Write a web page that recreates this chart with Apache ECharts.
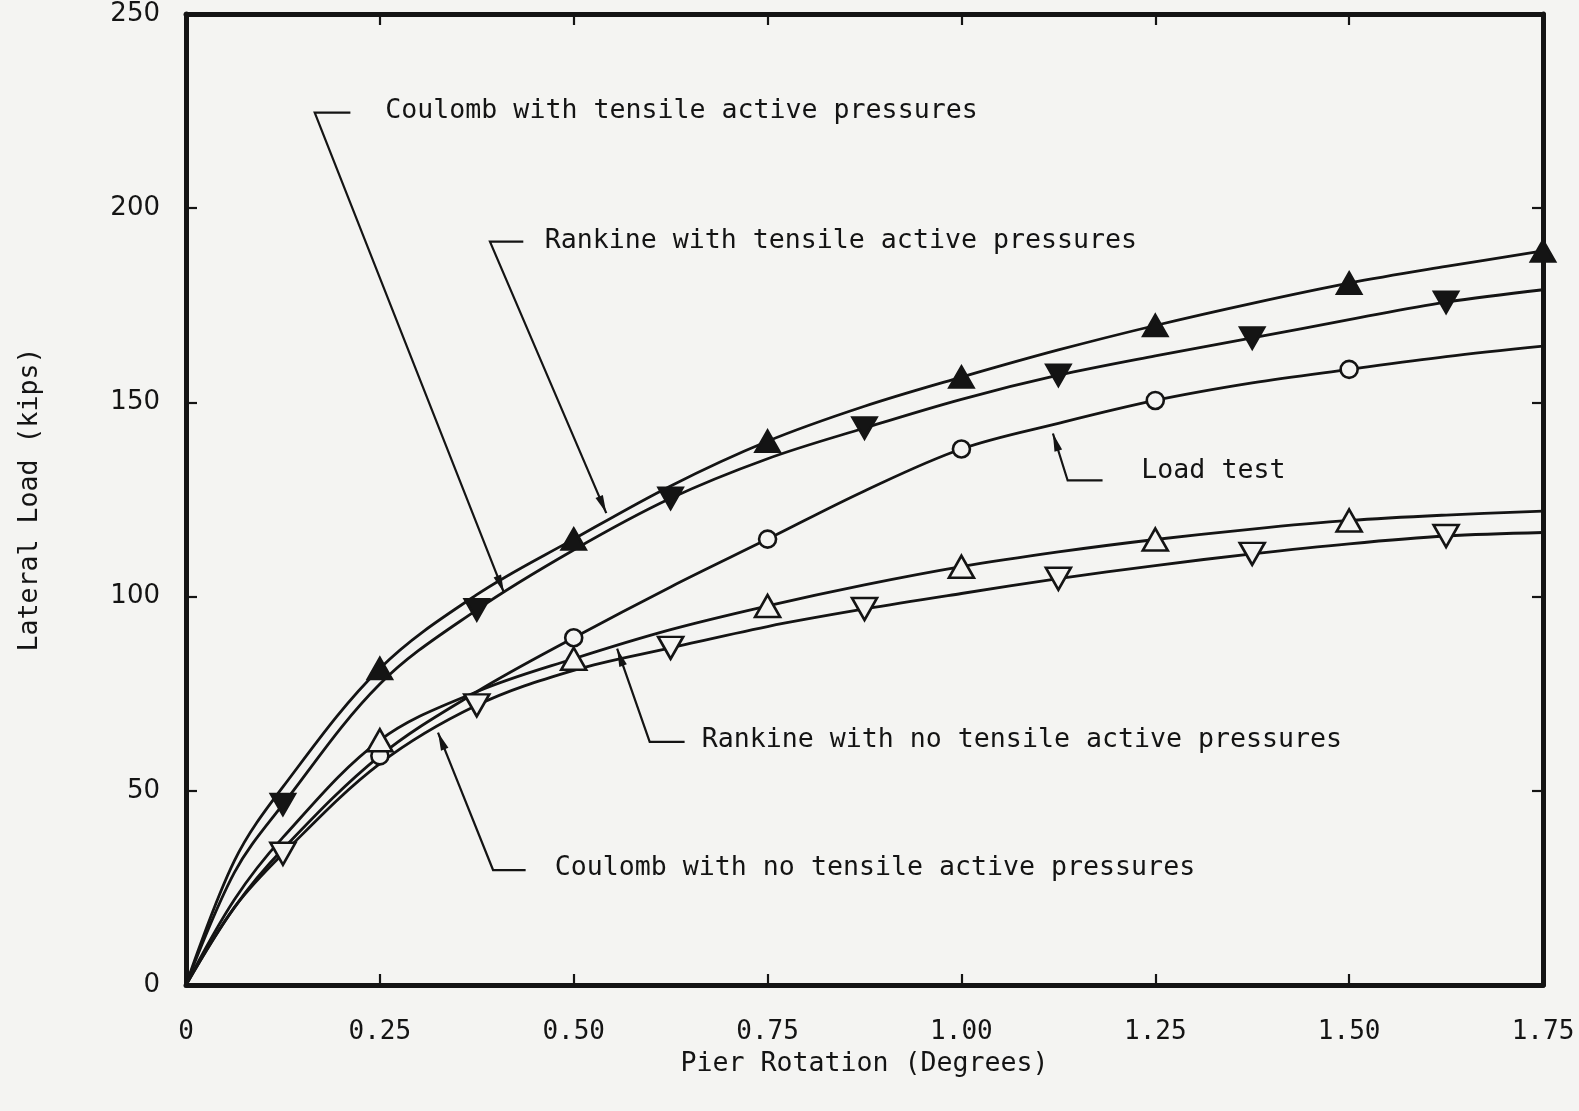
<!DOCTYPE html>
<html>
<head>
<meta charset="utf-8">
<script src="https://cdn.jsdelivr.net/npm/echarts@6/dist/echarts.min.js"></script>
<style>
html,body{margin:0;padding:0;background:#f4f4f2;}
#chart{width:1579px;height:1111px;}
</style>
</head>
<body>
<div id="chart"></div>
<script>
// ---- data ----
const rotation = [0, 0.0625, 0.125, 0.25, 0.375, 0.5, 0.625, 0.75, 0.875, 1.0, 1.125, 1.25, 1.375, 1.5, 1.625, 1.75];
const coulombTensile   = [0, 32, 51, 81.5, 100.5, 114.8, 128.5, 140, 149, 156.5, 163.5, 169.8, 175.5, 180.7, 185, 189];
const rankineTensile   = [0, 29, 46.5, 77.5, 96.6, 112, 125.3, 135.5, 143.4, 150.8, 157, 162, 166.6, 171.3, 175.8, 179];
const loadTest         = [0, 20, 35, 59, 75.5, 89.4, 102.5, 114.8, 127.2, 138, 144.6, 150.5, 155, 158.5, 161.8, 164.5];
const rankineNoTensile = [0, 22, 38, 63, 75.5, 84, 91.5, 97.6, 103, 107.7, 111.5, 114.7, 117.4, 119.6, 121, 122];
const coulombNoTensile = [0, 20, 33.8, 57, 72, 81, 86.8, 92.3, 96.8, 100.8, 104.6, 108, 111, 113.6, 115.6, 116.5];

const quarterMarks = [0.25, 0.5, 0.75, 1.0, 1.25, 1.5];
const quarterMarksEnd = [0.25, 0.5, 0.75, 1.0, 1.25, 1.5, 1.75];
const eighthMarks = [0.125, 0.375, 0.625, 0.875, 1.125, 1.375, 1.625];

const xTicks = [0, 0.25, 0.5, 0.75, 1.0, 1.25, 1.5, 1.75];
const xTickLabels = ['0', '0.25', '0.50', '0.75', '1.00', '1.25', '1.50', '1.75'];
const yTickLabels = ['0', '50', '100', '150', '200', '250'];

// annotations: label text, label anchor [x,y], leader polyline in data coords (last point = arrow tip)
const annotations = [
  {text: 'Coulomb with tensile active pressures', at: [0.257, 225.1], leader: [[0.212, 224.6], [0.166, 224.6], [0.41, 101]]},
  {text: 'Rankine with tensile active pressures', at: [0.4625, 191.6], leader: [[0.435, 191.4], [0.392, 191.4], [0.542, 121.5]]},
  {text: 'Load test', at: [1.232, 132.2], leader: [[1.182, 129.9], [1.137, 129.9], [1.118, 142.0]]},
  {text: 'Rankine with no tensile active pressures', at: [0.665, 63.0], leader: [[0.643, 62.6], [0.598, 62.6], [0.556, 86.6]]},
  {text: 'Coulomb with no tensile active pressures', at: [0.4755, 30.1], leader: [[0.438, 29.6], [0.396, 29.6], [0.325, 65]]}
];

// ---- styles ----
const INK = '#141414';
const BG = '#f4f4f2';
const MONO = "'DejaVu Sans Mono', 'Liberation Mono', monospace";

function buildData(values, marks, symbol, rotate, size) {
  return rotation.map((x, i) => {
    const marked = marks.indexOf(x) >= 0;
    return {
      value: [x, values[i]],
      symbol: marked ? symbol : 'none',
      symbolRotate: rotate,
      symbolSize: size
    };
  });
}

function curve(name, values, marks, symbol, rotate, size, filled) {
  return {
    name: name,
    type: 'line',
    smooth: 0.35,
    showAllSymbol: true,
    clip: true,
    data: buildData(values, marks, symbol, rotate, size),
    lineStyle: {color: INK, width: 2.8},
    itemStyle: {color: filled ? INK : BG, borderColor: INK, borderWidth: 2.6},
    z: 3
  };
}

const axisLineStyle = {show: true, onZero: false, lineStyle: {color: INK, width: 5}};
const tickStyle = {show: true, inside: true, length: 11, lineStyle: {color: INK, width: 2.2}};

const chart = echarts.init(document.getElementById('chart'), null, {renderer: 'canvas'});
const option = {
  backgroundColor: BG,
  animation: false,
  grid: {left: 186, right: 36, top: 14, bottom: 126, containLabel: false},
  xAxis: [{
    type: 'value', min: 0, max: 1.75, interval: 0.25, position: 'bottom',
    axisLine: axisLineStyle, axisTick: tickStyle, splitLine: {show: false},
    axisLabel: {
      margin: 34, color: INK, fontFamily: MONO, fontSize: 26,
      formatter: v => { const i = xTicks.findIndex(t => Math.abs(t - v) < 1e-9); return i >= 0 ? xTickLabels[i] : ''; }
    },
    name: 'Pier Rotation (Degrees)', nameLocation: 'middle', nameGap: 66,
    nameTextStyle: {color: INK, fontFamily: MONO, fontSize: 26.6}
  }, {
    type: 'value', min: 0, max: 1.75, interval: 0.25, position: 'top',
    axisLine: axisLineStyle, axisTick: tickStyle, splitLine: {show: false}, axisLabel: {show: false}
  }],
  yAxis: [{
    type: 'value', min: 0, max: 250, interval: 50, position: 'left',
    axisLine: axisLineStyle, axisTick: tickStyle, splitLine: {show: false},
    axisLabel: {
      margin: 26, color: INK, fontFamily: "'DejaVu Sans', sans-serif", fontSize: 26,
      formatter: v => yTickLabels[Math.round(v / 50)]
    },
    name: 'Lateral Load (kips)', nameLocation: 'middle', nameGap: 142, nameRotate: 90,
    nameTextStyle: {color: INK, fontFamily: MONO, fontSize: 26.6}
  }, {
    type: 'value', min: 0, max: 250, interval: 50, position: 'right',
    axisLine: axisLineStyle, axisTick: tickStyle, splitLine: {show: false}, axisLabel: {show: false}
  }],
  series: [
    curve('Coulomb with tensile active pressures', coulombTensile, quarterMarksEnd, 'triangle', 0, [24, 21], true),
    curve('Rankine with tensile active pressures', rankineTensile, eighthMarks, 'triangle', 180, [24, 21], true),
    curve('Load test', loadTest, quarterMarks, 'circle', 0, 17, false),
    curve('Rankine with no tensile active pressures', rankineNoTensile, quarterMarks, 'triangle', 0, [25, 22], false),
    curve('Coulomb with no tensile active pressures', coulombNoTensile, eighthMarks, 'triangle', 180, [25, 22], false)
  ]
};
chart.setOption(option);

// ---- annotations placed through the chart's own coordinate system ----
function px(p) { return chart.convertToPixel({gridIndex: 0}, p); }
const graphics = [];
annotations.forEach(a => {
  const pts = a.leader.map(px);
  graphics.push({
    type: 'polyline', z: 10,
    shape: {points: pts},
    style: {stroke: INK, lineWidth: 2.2, fill: null}
  });
  const tip = pts[pts.length - 1], prev = pts[pts.length - 2];
  const dx = tip[0] - prev[0], dy = tip[1] - prev[1];
  const len = Math.sqrt(dx * dx + dy * dy);
  const ux = dx / len, uy = dy / len;
  const L = 18, W = 4;
  const bx = tip[0] - ux * L, by = tip[1] - uy * L;
  graphics.push({
    type: 'polygon', z: 10,
    shape: {points: [tip, [bx - uy * W, by + ux * W], [bx + uy * W, by - ux * W]]},
    style: {fill: INK}
  });
  const t = px(a.at);
  graphics.push({
    type: 'text', z: 10, x: t[0], y: t[1],
    style: {text: a.text, fill: INK, font: "26.6px " + MONO, verticalAlign: 'middle', align: 'left'}
  });
});
chart.setOption({graphic: graphics});
</script>
</body>
</html>
